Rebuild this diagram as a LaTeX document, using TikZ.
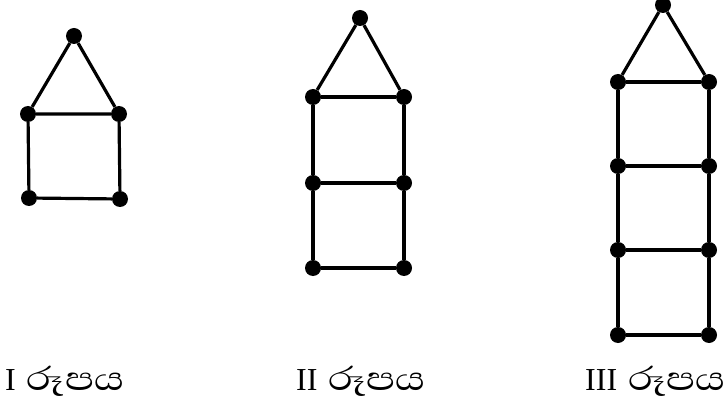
\documentclass[tikz,border=0pt]{standalone}
\usepackage{graphicx}
\usepackage{fontspec}
\setmainfont{Liberation Serif}
\newfontfamily\sinhalafont[Script=Sinhala, Scale=1.32]{Abhaya Libre}
\tikzset{
	dot/.style={circle, fill=black, inner sep=0pt, minimum width=16pt, minimum height=14.5pt},
	edge/.style={line width=3.2pt},
	caption/.style={anchor=base west, inner sep=0pt, font=\fontsize{32}{36}\selectfont}
}
\newcommand{\rupaya}{\hspace{11pt}\scalebox{1.17}[1]{\sinhalafont රූපය}}
\begin{document}
\begin{tikzpicture}[x=1pt, y=-1pt]
	\useasboundingbox (0,0) rectangle (725,406);
	% I රූපය
	\node[dot] (aT) at (74,36) {};
	\node[dot] (a1l) at (28,114) {};
	\node[dot] (a1r) at (119,114) {};
	\node[dot] (a2l) at (29,198) {};
	\node[dot] (a2r) at (120,199) {};
	\draw[edge] (a1l) -- (aT) -- (a1r);
	\draw[edge] (a1l) -- (a1r) -- (a2r) -- (a2l) -- (a1l);
	
	% II රූපය
	\node[dot] (bT) at (360,18) {};
	\node[dot] (b1l) at (313,97) {};
	\node[dot] (b1r) at (404,97) {};
	\node[dot] (b2l) at (313,183) {};
	\node[dot] (b2r) at (404,183) {};
	\node[dot] (b3l) at (313,268) {};
	\node[dot] (b3r) at (404,268) {};
	\draw[edge] (b1l) -- (bT) -- (b1r);
	\draw[edge] (b1l) -- (b1r) -- (b2r) -- (b3r) -- (b3l) -- (b2l) -- (b1l);
	\draw[edge] (b2l) -- (b2r);
	
	% III රූපය
	\node[dot] (cT) at (663,5) {};
	\node[dot] (c1l) at (618,82) {};
	\node[dot] (c1r) at (709,82) {};
	\node[dot] (c2l) at (618,166) {};
	\node[dot] (c2r) at (709,166) {};
	\node[dot] (c3l) at (618,250) {};
	\node[dot] (c3r) at (709,250) {};
	\node[dot] (c4l) at (618,335) {};
	\node[dot] (c4r) at (709,335) {};
	\draw[edge] (c1l) -- (cT) -- (c1r);
	\draw[edge] (c1l) -- (c1r) -- (c2r) -- (c3r) -- (c4r) -- (c4l) -- (c3l) -- (c2l) -- (c1l);
	\draw[edge] (c2l) -- (c2r);
	\draw[edge] (c3l) -- (c3r);
	
	% රූපය labels
	\node[caption] (capI) at (5,390) {I\rupaya};
	\node[caption] (capII) at (296,390) {II\rupaya};
	\node[caption] (capIII) at (585,390) {III\rupaya};
\end{tikzpicture}
\end{document}
